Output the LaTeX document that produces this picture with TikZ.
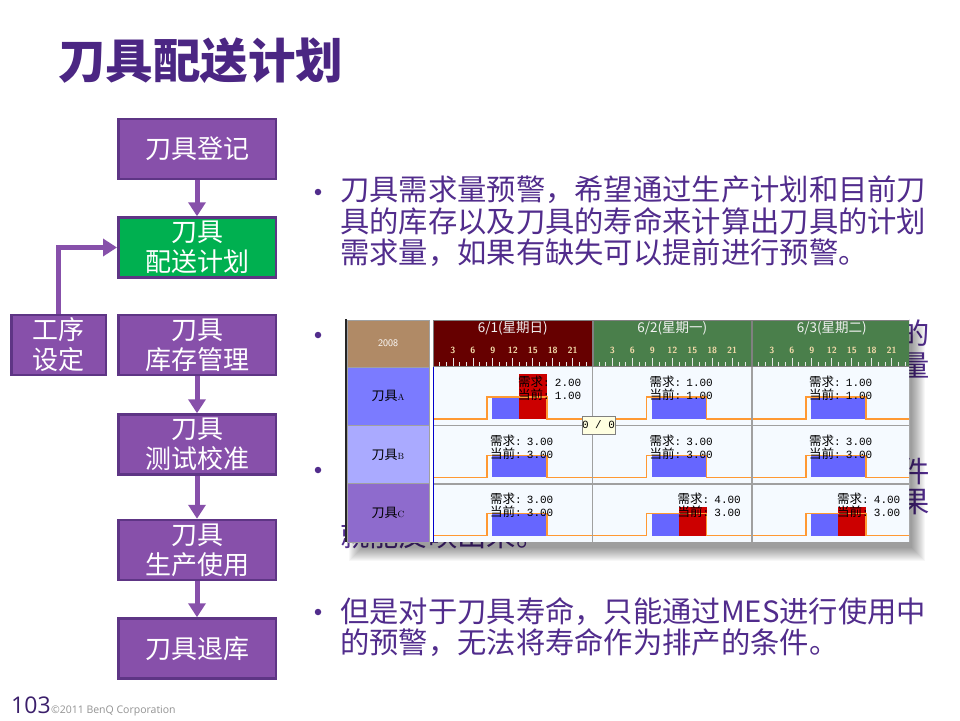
\documentclass[tikz,border=0pt]{standalone}
\usepackage{fontspec}
\usepackage{tikz}
\usetikzlibrary{positioning,arrows.meta,calc}
\newfontfamily\cjk{Noto Sans CJK SC}
\newfontfamily\monofont{Liberation Mono}
\newfontfamily\footfont{Open Sans}
\definecolor{slidepurple}{HTML}{4B2683}
\definecolor{textpurple}{HTML}{512C8C}
\definecolor{pagepurple}{HTML}{3B1F6B}
\definecolor{boxpurple}{HTML}{8750AA}
\definecolor{boxedge}{HTML}{5E3585}
\definecolor{boxgreen}{HTML}{00B050}
\definecolor{hdrred}{HTML}{660000}
\definecolor{hdrgreen}{HTML}{4A7F4B}
\definecolor{yeartan}{HTML}{B08A66}
\definecolor{rowa}{HTML}{7B7BFF}
\definecolor{rowb}{HTML}{AAAAFF}
\definecolor{rowc}{HTML}{8E6BCD}
\definecolor{cellbg}{HTML}{F5FAFF}
\definecolor{barblue}{HTML}{6666FF}
\definecolor{barred}{HTML}{CC0000}
\definecolor{steporange}{HTML}{FF9933}
\definecolor{gridgray}{HTML}{A0A0A0}
\definecolor{hourtan}{HTML}{F0D8A8}
\definecolor{tipyellow}{HTML}{FFFFE1}
\newcommand\cellval[2]{{\cjk\fontsize{12.5}{12.5}\selectfont #1}{\monofont\fontsize{11}{12}\selectfont:\kern-1.5pt\ #2}}
\newcommand\rowtag[1]{{\rmfamily\fontsize{9}{9}\selectfont #1}}
\tikzset{
  slidetitle/.style={anchor=west,inner sep=0pt,text=slidepurple,
    font=\cjk\bfseries\fontsize{47.5}{47.5}\selectfont},
  flowbox/.style={rectangle,draw=boxedge,line width=2.5pt,fill=boxpurple,
    text=white,align=center,inner sep=0pt,minimum width=157.5pt,
    minimum height=60pt,font=\cjk\fontsize{26}{30}\selectfont},
  flowarr/.style={-{Triangle[length=14pt,width=17pt]},draw=boxpurple,
    line width=5pt},
  bullettext/.style={anchor=north west,align=left,inner sep=0pt,
    text=textpurple,font=\cjk\fontsize{29.3}{31.5}\selectfont},
  hidechar/.style={inner sep=0pt,text=textpurple,font=\cjk\fontsize{29.3}{29.3}\selectfont},
  dot/.style={circle,fill=textpurple,inner sep=0pt,minimum size=6.5pt},
  labcell/.style={rectangle,draw=gridgray,line width=1pt,inner sep=0pt,
    minimum width=82pt,minimum height=58.3pt,font=\cjk\fontsize{13}{13}\selectfont},
  hdrcell/.style={rectangle,draw=gray,line width=0.8pt,inner sep=0pt,
    minimum width=158.5pt,minimum height=46pt},
  daytext/.style={inner sep=0pt,text=white!90!gray,font=\cjk\fontsize{13.5}{13.5}\selectfont},
  hourtext/.style={inner sep=0pt,text=hourtan,font=\sffamily\bfseries\fontsize{9}{9}\selectfont},
  tick/.style={draw=white!80!gray,line width=0.8pt},
  celltext/.style={anchor=west,inner sep=0pt},
  stepline/.style={draw=steporange,line width=1.3pt},
  tipbox/.style={rectangle,draw=gray,fill=tipyellow,inner sep=0pt,
    minimum width=29pt,minimum height=18pt,font=\monofont\fontsize{11}{11}\selectfont},
}
\begin{document}
\begin{tikzpicture}[x=1pt,y=-1pt]
  \useasboundingbox[fill=white] (0,0) rectangle (960,720);
  \node[slidetitle] (title) at (58,61) {刀具配送计划};

  % flow chart
  \node[flowbox] (dengji) at (197,149) {刀具登记};
  \node[flowbox,fill=boxgreen,below=36pt of dengji] (peisong) {刀具\\配送计划};
  \node[flowbox,below=35pt of peisong] (kucun) {刀具\\库存管理};
  \node[flowbox,left=10pt of kucun,minimum width=94.5pt] (gongxu) {工序\\设定};
  \node[flowbox,below=37pt of kucun] (jiaozhun) {刀具\\测试校准};
  \node[flowbox,below=43pt of jiaozhun] (shiyong) {刀具\\生产使用};
  \node[flowbox,below=36pt of shiyong] (tuiku) {刀具退库};
  \draw[flowarr] (dengji) -- (peisong);
  \draw[flowarr] (kucun) -- (jiaozhun);
  \draw[flowarr] (jiaozhun) -- (shiyong);
  \draw[flowarr] (shiyong) -- (tuiku);
  \draw[flowarr] (gongxu.north) |- (peisong.west);

  % bullets
  \node[dot] (dot1) at (318,192) {};
  \node[bullettext] (para1) at (340,176) {刀具需求量预警，希望通过生产计划和目前刀\\具的库存以及刀具的寿命来计算出刀具的计划\\需求量，如果有缺失可以提前进行预警。};
  \node[dot] (dot2) at (318,335) {};
  \node[hidechar] (frag1) at (915,333) {的};
  \node[hidechar] (frag2) at (915,365) {量};
  \node[dot] (dot3) at (318,470) {};
  \node[hidechar] (frag3) at (915,471) {件};
  \node[hidechar] (frag4) at (915,502) {果};
  \node[hidechar,anchor=west] (frag5) at (340,535) {就能反映出来。};
  \node[dot] (dot4) at (318,612) {};
  \node[bullettext] (para4) at (340,597) {但是对于刀具寿命，只能通过MES进行使用中\\的预警，无法将寿命作为排产的条件。};

  % screenshot with its shadow
  \foreach \s in {0,...,13}
    \fill[black,opacity=0.03] (349+\s,324+\s) rectangle (925-\s,561-\s);
  \fill[white] (345,319) rectangle (909,542);
  \begin{scope}
    \clip (345,319) rectangle (909,542);
    \foreach \cl/\dname/\hc in {0/{6/1(星期日)}/hdrred,1/{6/2(星期一)}/hdrgreen,2/{6/3(星期二)}/hdrgreen}{
      \pgfmathsetmacro\cx{433+159.5*\cl}
      \node[hdrcell,fill=\hc] (hdr-\cl) at (\cx+79.75,343.5) {};
      \node[daytext] (day-\cl) at (\cx+79.75,328) {\dname};
      \foreach \h in {3,6,...,21}
        \node[hourtext] (hour-\cl-\h) at (\cx+\h*6.65,350) {\h};
      \foreach \t [evaluate=\t as \len using {mod(\t,3)==0?8:4}] in {1,...,23}
        \draw[tick] (\cx+\t*6.65,366) -- ++(0,-\len);
    }
    \foreach \rw/\cl/\needv/\curv/\redtop in {0/0/2.00/1.00/7,0/1/1.00/1.00/0,0/2/1.00/1.00/0,
        1/0/3.00/3.00/0,1/1/3.00/3.00/0,1/2/3.00/3.00/0,
        2/0/3.00/3.00/0,2/1/4.00/3.00/23,2/2/4.00/3.00/23}{
      \pgfmathsetmacro\cx{433+159.5*\cl}
      \pgfmathsetmacro\ry{367+58.3*\rw}
      \fill[cellbg] (\cx,\ry) rectangle ++(159.5,58.3);
      \fill[barblue] (\cx+59,\ry+30) rectangle (\cx+114,\ry+52);
      \ifnum\redtop>0
        \fill[barred] (\cx+86,\ry+\redtop) rectangle (\cx+114,\ry+52);
        \def\tx{85}
      \else
        \def\tx{57}
      \fi
      \draw[stepline] (\cx,\ry+52) -| (\cx+54,\ry+30) -| (\cx+114,\ry+52) -- (\cx+159.5,\ry+52);
      \node[celltext] (need-\rw-\cl) at (\cx+\tx,\ry+15) {\cellval{需求}{\needv}};
      \node[celltext] (cur-\rw-\cl) at (\cx+\tx,\ry+28) {\cellval{当前}{\curv}};
    }
    \draw[gridgray,line width=1.3pt] (433,425.5) -- (909,425.5) (433,484) -- (909,484)
      (592.5,367) -- (592.5,542) (752,367) -- (752,542);
  \end{scope}
  \draw[blue!80!black,line width=1.2pt] (433.5,367) -- (433.5,542);
  \node[labcell,fill=yeartan,minimum height=47pt,text=white,
    font=\sffamily\fontsize{10}{10}\selectfont] (year) at (388,343.5) {2008};
  \node[labcell,fill=rowa] (rowA) at (388,396.3) {刀具\rowtag{A}};
  \node[labcell,fill=rowb] (rowB) at (388,454.6) {刀具\rowtag{B}};
  \node[labcell,fill=rowc] (rowC) at (388,512.9) {刀具\rowtag{C}};
  \draw[black!85,line width=2pt] (346,319) -- (346,542);
  \node[tipbox] (tip) at (598.5,425) {0 / 0};

  % footer
  \node[anchor=base west,inner sep=0pt,text=pagepurple,
    font=\footfont\fontsize{23}{23}\selectfont] (pageno) at (11,713) {103};
  \node[anchor=base west,inner sep=0pt,text=gray!85,
    font=\footfont\fontsize{10.5}{10.5}\selectfont] (copyright) at (pageno.base east) {©2011 BenQ Corporation};
\end{tikzpicture}
\end{document}
